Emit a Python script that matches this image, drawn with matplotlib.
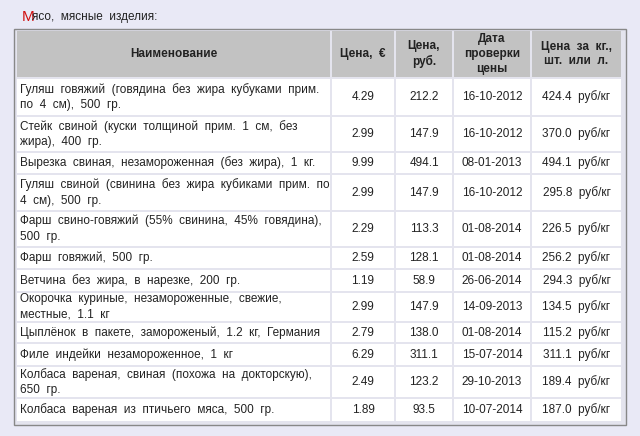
import matplotlib.pyplot as plt
from matplotlib.patches import Rectangle

plt.rcParams['font.family'] = ['Liberation Sans', 'DejaVu Sans']

headers = ['Наименование', 'Цена,  €', 'Цена,\nруб.', 'Дата\nпроверки\nцены', 'Цена  за  кг.,\nшт.  или  л.']
names = ['Гуляш  говяжий  (говядина  без  жира  кубуками  прим.\nпо  4  см),  500  гр.',
         'Стейк  свиной  (куски  толщиной  прим.  1  см,  без\nжира),  400  гр.',
         'Вырезка  свиная,  незамороженная  (без  жира),  1  кг.',
         'Гуляш  свиной  (свинина  без  жира  кубиками  прим.  по\n4  см),  500  гр.',
         'Фарш  свино-говяжий  (55%  свинина,  45%  говядина),\n500  гр.',
         'Фарш  говяжий,  500  гр.',
         'Ветчина  без  жира,  в  нарезке,  200  гр.',
         'Окорочка  куриные,  незамороженные,  свежие,\nместные,  1.1  кг',
         'Цыплёнок  в  пакете,  замороженый,  1.2  кг,  Германия',
         'Филе  индейки  незамороженное,  1  кг',
         'Колбаса  вареная,  свиная  (похожа  на  докторскую),\n650  гр.',
         'Колбаса  вареная  из  птичьего  мяса,  500  гр.']
eur = [4.29, 2.99, 9.99, 2.99, 2.29, 2.59, 1.19, 2.99, 2.79, 6.29, 2.49, 1.89]
rub = [212.2, 147.9, 494.1, 147.9, 113.3, 128.1, 58.9, 147.9, 138.0, 311.1, 123.2, 93.5]
dates = ['16-10-2012', '16-10-2012', '08-01-2013', '16-10-2012', '01-08-2014', '01-08-2014',
         '26-06-2014', '14-09-2013', '01-08-2014', '15-07-2014', '29-10-2013', '10-07-2014']
per_kg = [424.4, 370.0, 494.1, 295.8, 226.5, 256.2, 294.3, 134.5, 115.2, 311.1, 189.4, 187.0]

col_x = [16, 331, 395, 453, 531, 622]
row_y = [30, 78, 116, 152, 174, 211, 247, 269, 292, 322, 343, 366, 398, 422]

fig = plt.figure(figsize=(6.4, 4.36), dpi=100)
fig.patch.set_facecolor('#e9e9f6')
ax = fig.add_axes([0, 0, 1, 1])
ax.set_xlim(0, 640)
ax.set_ylim(436, 0)
ax.axis('off')

ax.text(22, 17, 'М', color='#d01010', fontsize=11, va='center')
ax.text(32, 17, 'ясо,  мясные  изделия:', color='#222222', fontsize=8.5, va='center')

ax.add_patch(Rectangle((14, 29), 612, 396, facecolor='#e4e4ee', edgecolor='#888888', lw=1))

fs = 8.5
for r in range(len(row_y) - 1):
    y0, y1 = row_y[r], row_y[r + 1]
    cy = (y0 + y1) / 2
    for c in range(5):
        x0, x1 = col_x[c], col_x[c + 1]
        face = '#c2c2c2' if r == 0 else '#ffffff'
        ax.add_patch(Rectangle((x0 + 1, y0 + 1), x1 - x0 - 2, y1 - y0 - 2, facecolor=face, edgecolor='none'))
    if r == 0:
        for c in range(5):
            ax.text((col_x[c] + col_x[c + 1]) / 2, cy, headers[c], ha='center', va='center',
                    fontsize=fs, fontweight='bold', color='#222222', linespacing=1.3)
        continue
    i = r - 1
    ax.text(col_x[0] + 4, cy, names[i], ha='left', va='center', fontsize=fs, color='#222222', linespacing=1.4)
    vals = [f'{eur[i]:.2f}', f'{rub[i]:.1f}', dates[i], f'{per_kg[i]:.1f}  руб/кг']
    for c, v in enumerate(vals, start=1):
        ax.text((col_x[c] + col_x[c + 1]) / 2, cy, v, ha='center', va='center', fontsize=fs, color='#222222')

fig.savefig('out.png', dpi=100, facecolor=fig.get_facecolor())
